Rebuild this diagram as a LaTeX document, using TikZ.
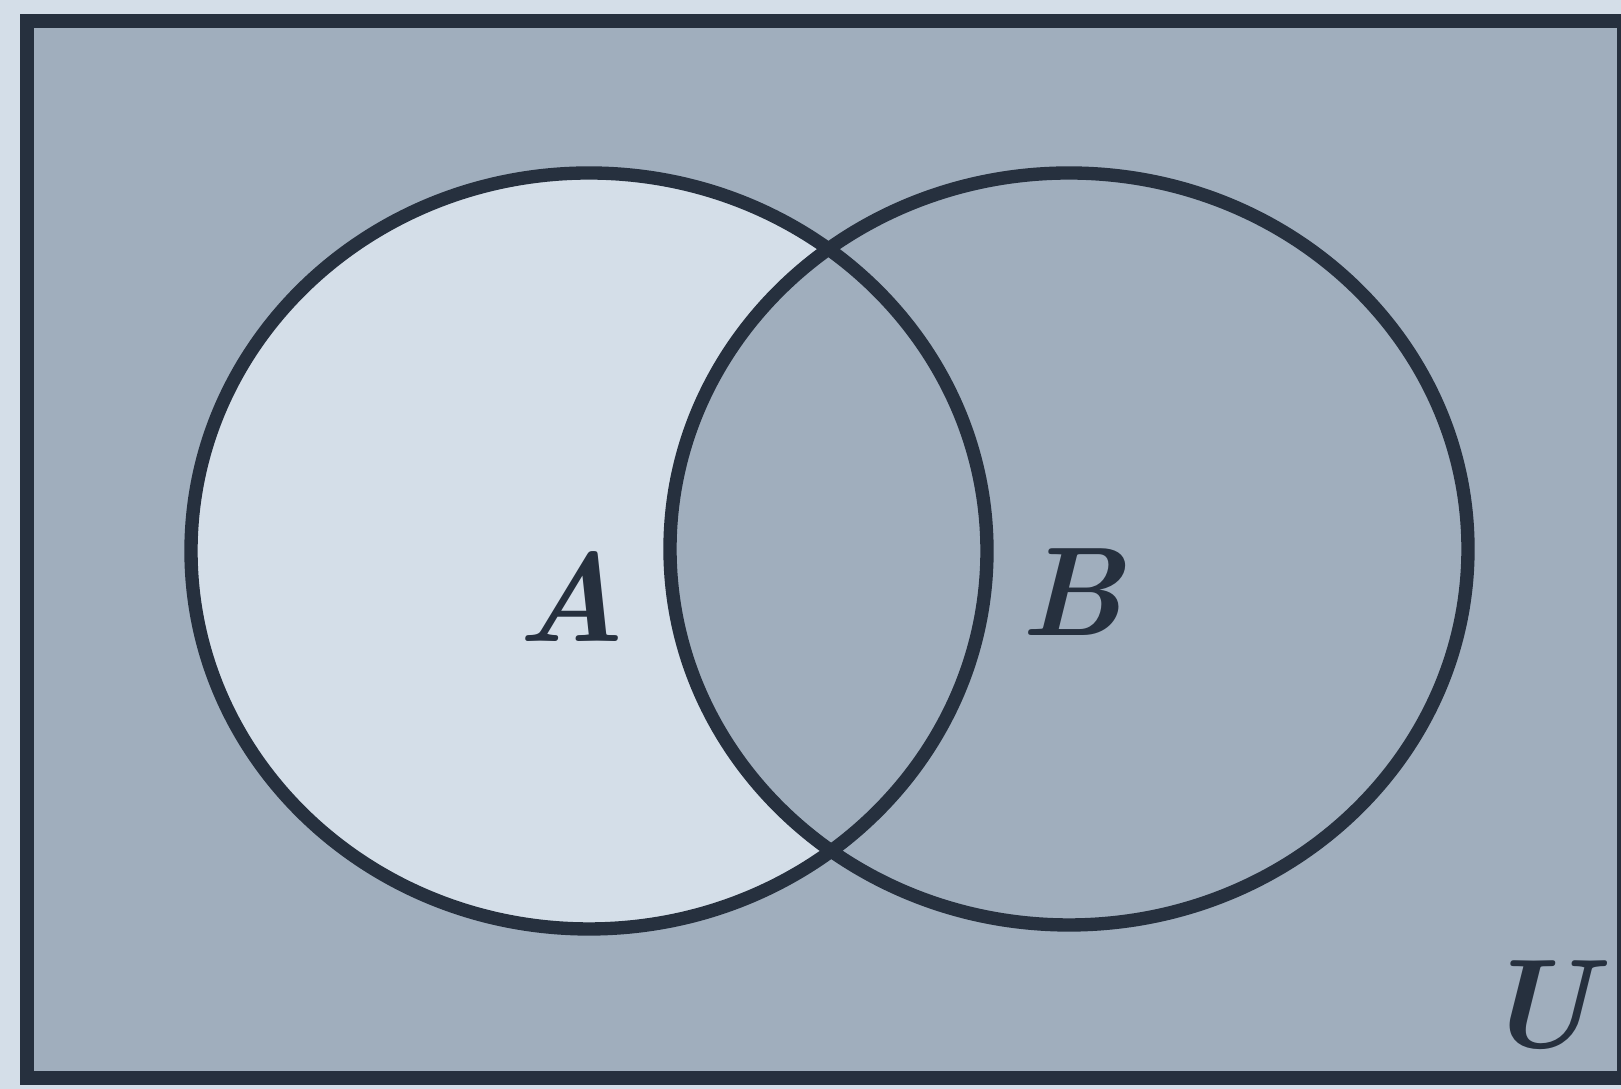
\documentclass[tikz,border=0pt]{standalone}
\usepackage{xcolor}
\usepackage{tikz}
\usetikzlibrary{positioning}
\definecolor{PaperLight}{RGB}{212,222,232}
\definecolor{ShadeGrey}{RGB}{160,174,189}
\definecolor{InkDark}{RGB}{38,48,62}
\tikzset{
  setline/.style={draw=InkDark, line width=3.8pt},
  setlabel/.style={font=\fontsize{36}{40}\selectfont\bfseries\itshape, text=InkDark, inner sep=0pt},
}
\begin{document}
\begin{tikzpicture}
  % page and universe
  \fill[PaperLight] (0,0) rectangle (16.21,10.89);
  \useasboundingbox (0,0) rectangle (16.21,10.89);
  \fill[ShadeGrey] (0.27,0.11) rectangle (16.24,10.68);
  % A without B stays light, B is shaded again
  \fill[PaperLight] (5.89,5.38) ellipse [x radius=3.98, y radius=3.78];
  \fill[ShadeGrey] (10.69,5.40) ellipse [x radius=3.99, y radius=3.76];
  \draw[setline] (0.27,0.11) rectangle (16.24,10.68);
  \draw[setline] (5.89,5.38) ellipse [x radius=3.98, y radius=3.78];
  \draw[setline] (10.69,5.40) ellipse [x radius=3.99, y radius=3.76];
  % labels
  \node[setlabel] (labA) at (5.71,4.92) {A};
  \node[setlabel] (labB) at (10.72,4.97) {B};
  \node[setlabel] (labU) at (15.38,0.84) {U};
\end{tikzpicture}
\end{document}
